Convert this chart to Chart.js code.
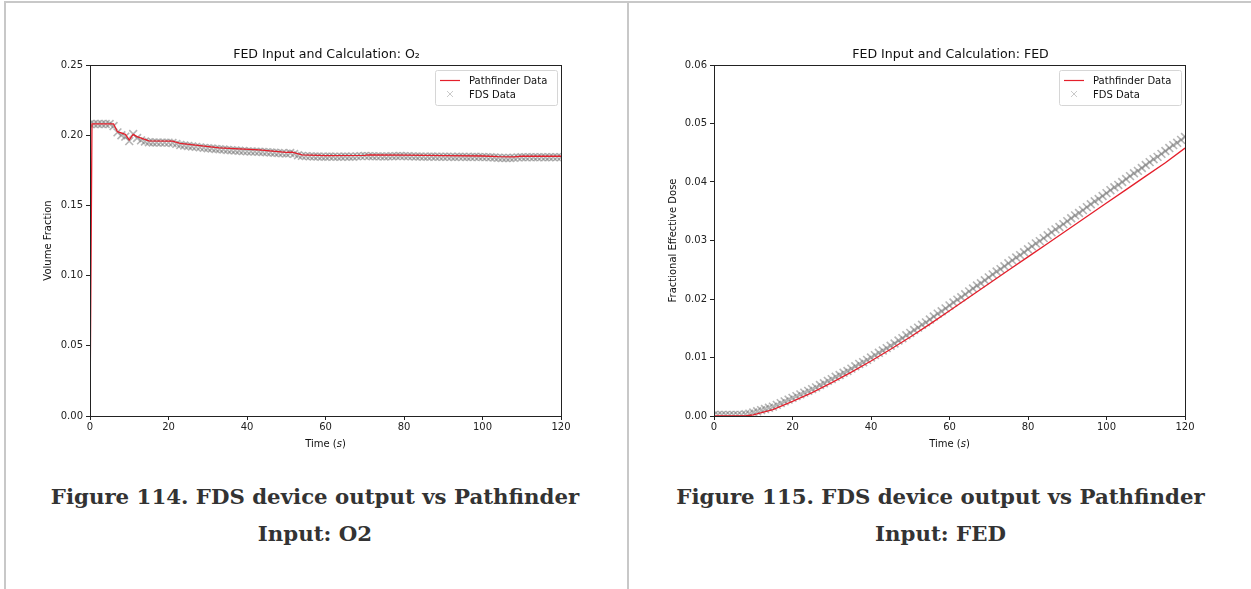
<!DOCTYPE html>
<html>
<head>
<meta charset="utf-8">
<script src="https://cdn.jsdelivr.net/npm/chart.js@4.4.1/dist/chart.umd.min.js"></script>
<style>
  html, body { margin: 0; padding: 0; background: #fff; }
  body { width: 1251px; height: 589px; position: relative; overflow: hidden; }
  .rule { position: absolute; background: #c8c8c8; }
  #ruleTop { left: 4px; top: 1px; width: 1247px; height: 2px; }
  #ruleLeft { left: 4px; top: 1px; width: 2px; height: 588px; }
  #ruleMid { left: 627px; top: 1px; width: 2px; height: 588px; }
  .plot { position: absolute; top: 0; height: 470px; }
  #plotL { left: 0; width: 625px; }
  #plotR { left: 630px; width: 621px; }
  .caption {
    position: absolute; top: 478px; text-align: center;
    font-family: "DejaVu Serif", serif; font-weight: bold; font-size: 21.3px;
    line-height: 37px; color: #333;
  }
  #capL { left: 5px; width: 620px; }
  #capR { left: 630px; width: 621px; }
</style>
</head>
<body>
<div class="rule" id="ruleTop"></div>
<div class="rule" id="ruleLeft"></div>
<div class="rule" id="ruleMid"></div>
<div class="plot" id="plotL"><canvas id="o2Chart"></canvas></div>
<div class="plot" id="plotR"><canvas id="fedChart"></canvas></div>
<div class="caption" id="capL">Figure 114. FDS device output vs Pathfinder<br>Input: O2</div>
<div class="caption" id="capR">Figure 115. FDS device output vs Pathfinder<br>Input: FED</div>

<script>
/* ---- Data ---- */

// FDS device output, one sample per second (shared by both plots)
const fdsTime = [
  0, 1, 2, 3, 4, 5, 6, 7, 8, 9, 10, 11, 12, 13, 14, 15, 16, 17, 18, 19,
  20, 21, 22, 23, 24, 25, 26, 27, 28, 29, 30, 31, 32, 33, 34, 35, 36, 37, 38, 39,
  40, 41, 42, 43, 44, 45, 46, 47, 48, 49, 50, 51, 52, 53, 54, 55, 56, 57, 58, 59,
  60, 61, 62, 63, 64, 65, 66, 67, 68, 69, 70, 71, 72, 73, 74, 75, 76, 77, 78, 79,
  80, 81, 82, 83, 84, 85, 86, 87, 88, 89, 90, 91, 92, 93, 94, 95, 96, 97, 98, 99,
  100, 101, 102, 103, 104, 105, 106, 107, 108, 109, 110, 111, 112, 113, 114, 115, 116, 117, 118, 119,
  120,
];

const fdsO2 = [
  0.2080, 0.2080, 0.2080, 0.2080, 0.2080, 0.2080, 0.2065, 0.2020, 0.2000, 0.1990,
  0.1958, 0.2008, 0.1980, 0.1963, 0.1955, 0.1950, 0.1948, 0.1948, 0.1947, 0.1947,
  0.1947, 0.1945, 0.1938, 0.1930, 0.1927, 0.1923, 0.1920, 0.1917, 0.1913, 0.1910,
  0.1907, 0.1905, 0.1902, 0.1900, 0.1898, 0.1895, 0.1893, 0.1891, 0.1889, 0.1887,
  0.1885, 0.1884, 0.1883, 0.1882, 0.1880, 0.1879, 0.1877, 0.1875, 0.1873, 0.1871,
  0.1869, 0.1873, 0.1867, 0.1857, 0.1853, 0.1851, 0.1849, 0.1848, 0.1848, 0.1847,
  0.1847, 0.1848, 0.1847, 0.1846, 0.1847, 0.1848, 0.1847, 0.1847, 0.1849, 0.1851,
  0.1853, 0.1851, 0.1850, 0.1849, 0.1849, 0.1848, 0.1849, 0.1850, 0.1851, 0.1852,
  0.1851, 0.1850, 0.1849, 0.1848, 0.1848, 0.1847, 0.1847, 0.1848, 0.1847, 0.1846,
  0.1846, 0.1847, 0.1846, 0.1845, 0.1846, 0.1846, 0.1845, 0.1845, 0.1846, 0.1845,
  0.1845, 0.1844, 0.1843, 0.1841, 0.1839, 0.1838, 0.1838, 0.1838, 0.1839, 0.1842,
  0.1843, 0.1843, 0.1844, 0.1843, 0.1843, 0.1844, 0.1843, 0.1843, 0.1844, 0.1844,
  0.1843,
];

const fdsFed = [
  0.0002, 0.0002, 0.0002, 0.0002, 0.0002, 0.0002, 0.0002, 0.0002, 0.0003, 0.0004,
  0.0006, 0.0008, 0.0010, 0.0012, 0.0014, 0.0016, 0.0019, 0.0022, 0.0025, 0.0028,
  0.0031, 0.0034, 0.0037, 0.0040, 0.0043, 0.0046, 0.0049, 0.0053, 0.0056, 0.0060,
  0.0063, 0.0067, 0.0070, 0.0074, 0.0077, 0.0081, 0.0085, 0.0089, 0.0092, 0.0096,
  0.0100, 0.0104, 0.0108, 0.0112, 0.0116, 0.0120, 0.0124, 0.0129, 0.0133, 0.0138,
  0.0142, 0.0147, 0.0151, 0.0156, 0.0160, 0.0165, 0.0170, 0.0175, 0.0179, 0.0184,
  0.0189, 0.0194, 0.0199, 0.0203, 0.0208, 0.0213, 0.0218, 0.0223, 0.0227, 0.0232,
  0.0237, 0.0242, 0.0247, 0.0251, 0.0256, 0.0261, 0.0266, 0.0271, 0.0275, 0.0280,
  0.0285, 0.0290, 0.0295, 0.0299, 0.0304, 0.0309, 0.0314, 0.0319, 0.0323, 0.0328,
  0.0333, 0.0338, 0.0343, 0.0347, 0.0352, 0.0357, 0.0362, 0.0367, 0.0371, 0.0376,
  0.0381, 0.0386, 0.0391, 0.0395, 0.0400, 0.0405, 0.0410, 0.0415, 0.0419, 0.0424,
  0.0429, 0.0434, 0.0439, 0.0443, 0.0448, 0.0453, 0.0458, 0.0463, 0.0467, 0.0472,
  0.0477,
];

// Pathfinder input (red line)
const pfO2Time = [0, 0.5, 6, 7, 9, 10, 11, 12, 15, 21, 23, 33, 43, 50, 51.5, 54, 60, 70, 71, 80, 90, 100, 104, 108, 110, 120];
const pfO2 = [0, 0.208, 0.208, 0.2025, 0.2006, 0.1966, 0.2006, 0.199, 0.196, 0.1958, 0.1942, 0.191, 0.1895, 0.1878, 0.188, 0.186, 0.1855, 0.1857, 0.186, 0.1858, 0.1854, 0.1852, 0.1847, 0.1846, 0.185, 0.185];

const pfFedTime = [0, 5, 8, 10, 15, 20, 25, 30, 35, 40, 45, 50, 55, 60, 65, 70, 75, 80, 85, 90, 95, 100, 105, 110, 115, 120];
const pfFed = [0, 0, 0, 0.0002, 0.0011, 0.0025, 0.0040, 0.0057, 0.0075, 0.0094, 0.0114, 0.0135, 0.0157, 0.0180, 0.0203, 0.0226, 0.0249, 0.0272, 0.0295, 0.0318, 0.0341, 0.0364, 0.0387, 0.0410, 0.0433, 0.0458];

// Axis ticks
const timeTicks = [0, 20, 40, 60, 80, 100, 120];
const o2Ticks = [0, 0.05, 0.1, 0.15, 0.2, 0.25];
const fedTicks = [0, 0.01, 0.02, 0.03, 0.04, 0.05, 0.06];

/* ---- Shared styling ---- */

const axisColor = "#222";
const tickFont = { family: "DejaVu Sans", size: 10 };
const pfColor = "#e41f2b";
const fdsColor = "rgba(105, 105, 105, 0.5)";

const toPoints = (xs, ys) => xs.map((x, i) => ({ x, y: ys[i] }));

/* Draws the matplotlib-ish frame, title, axis labels and legend. */
const decorPlugin = {
  id: "decor",
  afterDraw(chart, args, opts) {
    const { ctx, chartArea: a } = chart;
    ctx.save();
    ctx.strokeStyle = axisColor;
    ctx.lineWidth = 1;
    ctx.strokeRect(Math.round(a.left) + 0.5, Math.round(a.top) + 0.5,
      Math.round(a.right - a.left), Math.round(a.bottom - a.top));

    const cx = (a.left + a.right) / 2;
    ctx.fillStyle = "#111";
    ctx.textAlign = "center";
    ctx.textBaseline = "alphabetic";
    ctx.font = "12.6px 'DejaVu Sans'";
    ctx.fillText(opts.title, cx + 1, a.top - 7);

    // x label: Time (s), s in italics
    ctx.font = "10px 'DejaVu Sans'";
    const p1 = "Time (", p2 = "s", p3 = ")";
    const w1 = ctx.measureText(p1).width;
    const w3 = ctx.measureText(p3).width;
    ctx.font = "italic 10px 'DejaVu Sans'";
    const w2 = ctx.measureText(p2).width;
    const x0 = cx - (w1 + w2 + w3) / 2;
    const yl = a.bottom + 31;
    ctx.textAlign = "left";
    ctx.font = "10px 'DejaVu Sans'";
    ctx.fillText(p1, x0, yl);
    ctx.font = "italic 10px 'DejaVu Sans'";
    ctx.fillText(p2, x0 + w1, yl);
    ctx.font = "10px 'DejaVu Sans'";
    ctx.fillText(p3, x0 + w1 + w2, yl);

    // y label
    ctx.save();
    ctx.translate(a.left - opts.yLabelOffset, (a.top + a.bottom) / 2);
    ctx.rotate(-Math.PI / 2);
    ctx.textAlign = "center";
    ctx.fillText(opts.yLabel, 0, 0);
    ctx.restore();

    // legend box in the upper right
    const lw = 122, lh = 35;
    const lx = a.right - 4 - lw, ly = a.top + 5;
    ctx.fillStyle = "rgba(255,255,255,0.85)";
    ctx.strokeStyle = "#d6d6d6";
    ctx.beginPath();
    ctx.roundRect(lx + 0.5, ly + 0.5, lw, lh, 2);
    ctx.fill();
    ctx.stroke();

    ctx.strokeStyle = pfColor;
    ctx.lineWidth = 1.2;
    ctx.beginPath();
    ctx.moveTo(lx + 5, ly + 10.5);
    ctx.lineTo(lx + 25, ly + 10.5);
    ctx.stroke();

    ctx.strokeStyle = "rgba(150,150,150,0.5)";
    ctx.lineWidth = 1;
    ctx.beginPath();
    ctx.moveTo(lx + 12, ly + 21);
    ctx.lineTo(lx + 18, ly + 27);
    ctx.moveTo(lx + 18, ly + 21);
    ctx.lineTo(lx + 12, ly + 27);
    ctx.stroke();

    ctx.fillStyle = "#111";
    ctx.textAlign = "left";
    ctx.font = "10px 'DejaVu Sans'";
    ctx.fillText("Pathfinder Data", lx + 34, ly + 14);
    ctx.fillText("FDS Data", lx + 34, ly + 28);
    ctx.restore();
  },
};

const makeChart = (canvasId, cfg) => {
  const canvas = document.getElementById(canvasId);
  return new Chart(canvas, {
    type: "line",
    data: {
      datasets: [
        {
          label: "Pathfinder Data",
          data: toPoints(cfg.pfTime, cfg.pfValues),
          borderColor: pfColor,
          borderWidth: 1.3,
          pointRadius: 0,
          tension: 0,
        },
        {
          label: "FDS Data",
          data: toPoints(fdsTime, cfg.fdsValues),
          showLine: false,
          pointStyle: "crossRot",
          pointRadius: 5.5,
          pointBorderWidth: 1.6,
          pointBorderColor: fdsColor,
          pointBackgroundColor: fdsColor,
        },
      ],
    },
    options: {
      responsive: true,
      maintainAspectRatio: false,
      animation: false,
      events: [],
      layout: { padding: { left: 0, right: cfg.padRight, top: 65, bottom: 24 } },
      plugins: {
        legend: { display: false },
        tooltip: { enabled: false },
        decor: { title: cfg.title, yLabel: cfg.yLabel, yLabelOffset: cfg.yLabelOffset },
      },
      scales: {
        x: {
          type: "linear",
          min: 0,
          max: 120,
          afterBuildTicks: (s) => { s.ticks = timeTicks.map((v) => ({ value: v })); },
          afterFit: (s) => { s.height = 30; },
          ticks: { color: axisColor, font: tickFont, padding: 1, maxRotation: 0 },
          grid: { drawOnChartArea: false, tickLength: 4, color: axisColor },
          border: { color: axisColor },
        },
        y: {
          type: "linear",
          min: 0,
          max: cfg.yMax,
          afterBuildTicks: (s) => { s.ticks = cfg.yTicks.map((v) => ({ value: v })); },
          afterFit: (s) => { s.width = cfg.yWidth; },
          ticks: {
            color: axisColor,
            font: tickFont,
            padding: 3,
            callback: (v) => v.toFixed(2),
          },
          grid: { drawOnChartArea: false, tickLength: 4, color: axisColor },
          border: { color: axisColor },
        },
      },
    },
    plugins: [decorPlugin],
  });
};

makeChart("o2Chart", {
  title: "FED Input and Calculation: O\u2082",
  yLabel: "Volume Fraction",
  yLabelOffset: 39,
  yMax: 0.25,
  yTicks: o2Ticks,
  yWidth: 90,
  padRight: 64,
  pfTime: pfO2Time,
  pfValues: pfO2,
  fdsValues: fdsO2,
});

makeChart("fedChart", {
  title: "FED Input and Calculation: FED",
  yLabel: "Fractional Effective Dose",
  yLabelOffset: 38,
  yMax: 0.06,
  yTicks: fedTicks,
  yWidth: 84,
  padRight: 66,
  pfTime: pfFedTime,
  pfValues: pfFed,
  fdsValues: fdsFed,
});
</script>
</body>
</html>
